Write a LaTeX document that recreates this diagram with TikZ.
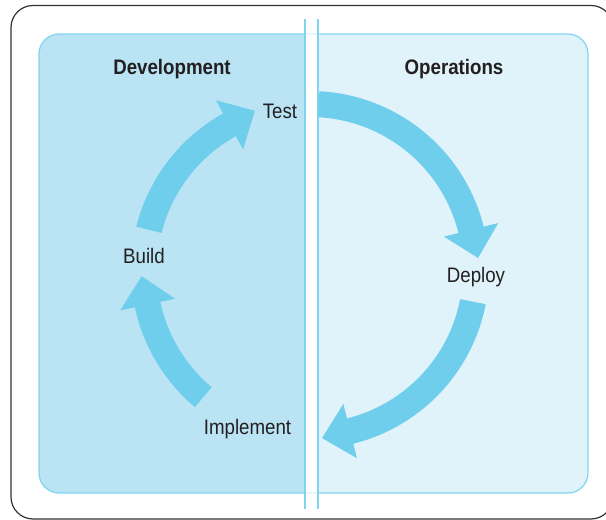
\documentclass[tikz,border=0pt]{standalone}
\usepackage{fontspec}
\setmainfont{Liberation Sans}[FakeStretch=0.89]
\usepackage{tikz}
\usetikzlibrary{calc}
\definecolor{devblue}{HTML}{BAE3F4}
\definecolor{opsblue}{HTML}{E0F2FA}
\definecolor{arrowblue}{HTML}{6FCEEC}
\definecolor{lineblue}{HTML}{7FD4F0}
\definecolor{textgray}{HTML}{231F20}
\tikzstyle{phase}=[text=textgray, font=\fontsize{21}{25}\selectfont, anchor=base, inner sep=0pt]
\tikzstyle{side}=[phase, font=\fontsize{21}{25}\selectfont\bfseries]
\tikzstyle{cyclearrow}=[fill=arrowblue, draw=none]
\tikzstyle{divider}=[draw=lineblue, line width=1.6pt]
\begin{document}
\begin{tikzpicture}[x=1pt, y=1pt]

  \useasboundingbox (0,0) rectangle (606,520);
  \coordinate (cyc) at (310,250);

  % outer frame
  \draw[black!80, line width=1.2pt, rounded corners=22] (11,1) rectangle (613,514.5);

  % the two halves
  \begin{scope}
    \clip[rounded corners=20] (39,27) rectangle (588,486);
    \fill[devblue] (39,27) rectangle (305,486);
    \fill[opsblue] (318,27) rectangle (588,486);
  \end{scope}
  \draw[lineblue, line width=1.2pt, rounded corners=20] (39,27) rectangle (588,486);
  \fill[white, opacity=0.7] (305,11) rectangle (318,501);
  \foreach \x in {305, 318}
    \path[divider] (\x,11) -- (\x,501);

  % cycle arrows, clockwise
  \foreach \a/\b in {87/14, -11/-76, 230/192, 166/119}
    \fill[cyclearrow] ($(cyc)+(\a:179)$) arc[start angle=\a, end angle=\b, radius=179]
      -- ($(cyc)+(\b:194)$) -- ($(cyc)+({\b-9.9}:168.5)$) -- ($(cyc)+(\b:138)$)
      -- ($(cyc)+(\b:153)$) arc[start angle=\b, end angle=\a, radius=153] -- cycle;

  \node[side] (dev) at (172,445) {Development};
  \node[side] (ops) at (454,445) {Operations};

  \foreach \x/\y/\name/\label in {280/401/test/Test, 476/237/deploy/Deploy, 247.5/85/impl/Implement, 144/256/build/Build}
    \node[phase] (\name) at (\x,\y) {\label};

\end{tikzpicture}
\end{document}
